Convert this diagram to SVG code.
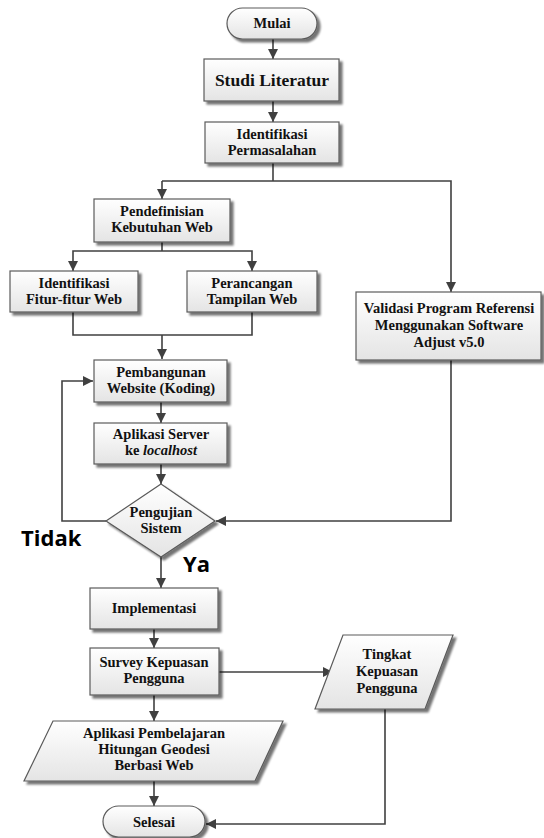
<svg xmlns="http://www.w3.org/2000/svg" width="544" height="838" viewBox="0 0 544 838">
<defs>
<linearGradient id="g" x1="0" y1="0" x2="0" y2="1">
<stop offset="0" stop-color="#ffffff"/>
<stop offset="1" stop-color="#e4e4e4"/>
</linearGradient>
<filter id="sh" x="-10%" y="-10%" width="130%" height="140%">
<feGaussianBlur in="SourceAlpha" stdDeviation="1"/>
<feOffset dx="2.5" dy="2.5" result="o"/>
<feComponentTransfer><feFuncA type="linear" slope="0.55"/></feComponentTransfer>
<feMerge><feMergeNode/><feMergeNode in="SourceGraphic"/></feMerge>
</filter>
<marker id="ah" viewBox="0 0 10 10" refX="10" refY="5" markerWidth="10" markerHeight="10" markerUnits="userSpaceOnUse" orient="auto">
<path d="M0,0 L10,5 L0,10 z" fill="#404040"/>
</marker>
</defs>
<style>
.s{fill:url(#g);stroke:#5a5a5a;stroke-width:1.2;filter:url(#sh)}
.t{font-family:'Liberation Serif','Times New Roman','DejaVu Serif',serif;font-weight:700;font-size:14.5px;fill:#111;text-anchor:middle}
.c{fill:none;stroke:#404040;stroke-width:1.6}
.a{marker-end:url(#ah)}
.lb{font-family:'Open Sans','Noto Sans',sans-serif;font-weight:bold;font-size:22px;fill:#000}
</style>
<rect width="544" height="838" fill="#ffffff"/>
<g id="connectors">
<path class="c a" d="M273,39 V59"/>
<path class="c a" d="M273,101 V122"/>
<path class="c" d="M273,163 V181"/>
<path class="c a" d="M162,181 H451 V292"/>
<path class="c a" d="M162,181 V199"/>
<path class="c" d="M162,242 V251"/>
<path class="c a" d="M162,251 H73 V271"/>
<path class="c a" d="M162,251 H252 V271"/>
<path class="c" d="M73,312 V335 H252 V312"/>
<path class="c a" d="M162,335 V359"/>
<path class="c a" d="M161,402 V423"/>
<path class="c a" d="M161,464 V484"/>
<path class="c a" d="M106,521 H62 V381 H93"/>
<path class="c a" d="M451,360 V521 H216"/>
<path class="c a" d="M161,557 V588"/>
<path class="c a" d="M154,629 V648"/>
<path class="c a" d="M219,672 H333"/>
<path class="c a" d="M154,695 V721"/>
<path class="c a" d="M154,781 V806"/>
<path class="c a" d="M385,709 V824 H206"/>
</g>
<g id="mulai">
<rect class="s" x="227" y="8" width="90" height="31" rx="15.5"/>
<text class="t" x="272" y="28" font-family="Liberation Serif, serif">Mulai</text>
</g>
<g id="studi">
<rect class="s" x="204" y="59" width="135" height="42"/>
<text class="t" x="272" y="86" style="font-size:17.5px">Studi Literatur</text>
</g>
<g id="identifikasi">
<rect class="s" x="205" y="122" width="134" height="41"/>
<text class="t" x="272" y="139">Identifikasi</text>
<text class="t" x="272" y="155">Permasalahan</text>
</g>
<g id="pendefinisian">
<rect class="s" x="94" y="199" width="136" height="43"/>
<text class="t" x="162" y="216">Pendefinisian</text>
<text class="t" x="162" y="232">Kebutuhan Web</text>
</g>
<g id="fitur">
<rect class="s" x="10" y="271" width="128" height="41"/>
<text class="t" x="74" y="288">Identifikasi</text>
<text class="t" x="74" y="304">Fitur-fitur Web</text>
</g>
<g id="perancangan">
<rect class="s" x="187" y="271" width="130" height="41"/>
<text class="t" x="252" y="288">Perancangan</text>
<text class="t" x="252" y="304">Tampilan Web</text>
</g>
<g id="validasi">
<rect class="s" x="356" y="292" width="185" height="68"/>
<text class="t" x="449" y="313">Validasi Program Referensi</text>
<text class="t" x="449" y="330">Menggunakan Software</text>
<text class="t" x="449" y="347">Adjust v5.0</text>
</g>
<g id="pembangunan">
<rect class="s" x="94" y="360" width="133" height="42"/>
<text class="t" x="161" y="377">Pembangunan</text>
<text class="t" x="161" y="393">Website (Koding)</text>
</g>
<g id="server">
<rect class="s" x="94" y="423" width="133" height="41"/>
<text class="t" x="161" y="439">Aplikasi Server</text>
<text class="t" x="161" y="455">ke <tspan font-style="italic">localhost</tspan></text>
</g>
<g id="pengujian">
<path class="s" d="M161,484 L215,521 L161,557 L106,521 Z"/>
<text class="t" x="161" y="517">Pengujian</text>
<text class="t" x="161" y="533">Sistem</text>
</g>
<g id="labels">
<text class="lb" x="21" y="546">Tidak</text>
<text class="lb" x="183" y="572">Ya</text>
</g>
<g id="implementasi">
<rect class="s" x="90" y="588" width="128" height="41"/>
<text class="t" x="154" y="613">Implementasi</text>
</g>
<g id="survey">
<rect class="s" x="90" y="648" width="129" height="47"/>
<text class="t" x="154" y="667">Survey Kepuasan</text>
<text class="t" x="154" y="683">Pengguna</text>
</g>
<g id="tingkat">
<path class="s" d="M343,635 H453 L425,709 H315 Z"/>
<text class="t" x="387" y="659">Tingkat</text>
<text class="t" x="387" y="676">Kepuasan</text>
<text class="t" x="387" y="693">Pengguna</text>
</g>
<g id="aplikasi">
<path class="s" d="M53,721 H283 L255,781 H24 Z"/>
<text class="t" x="154" y="738">Aplikasi Pembelajaran</text>
<text class="t" x="154" y="754">Hitungan Geodesi</text>
<text class="t" x="154" y="770">Berbasi Web</text>
</g>
<g id="selesai">
<rect class="s" x="103" y="806" width="102" height="31" rx="15.5"/>
<text class="t" x="154" y="827">Selesai</text>
</g>
</svg>
